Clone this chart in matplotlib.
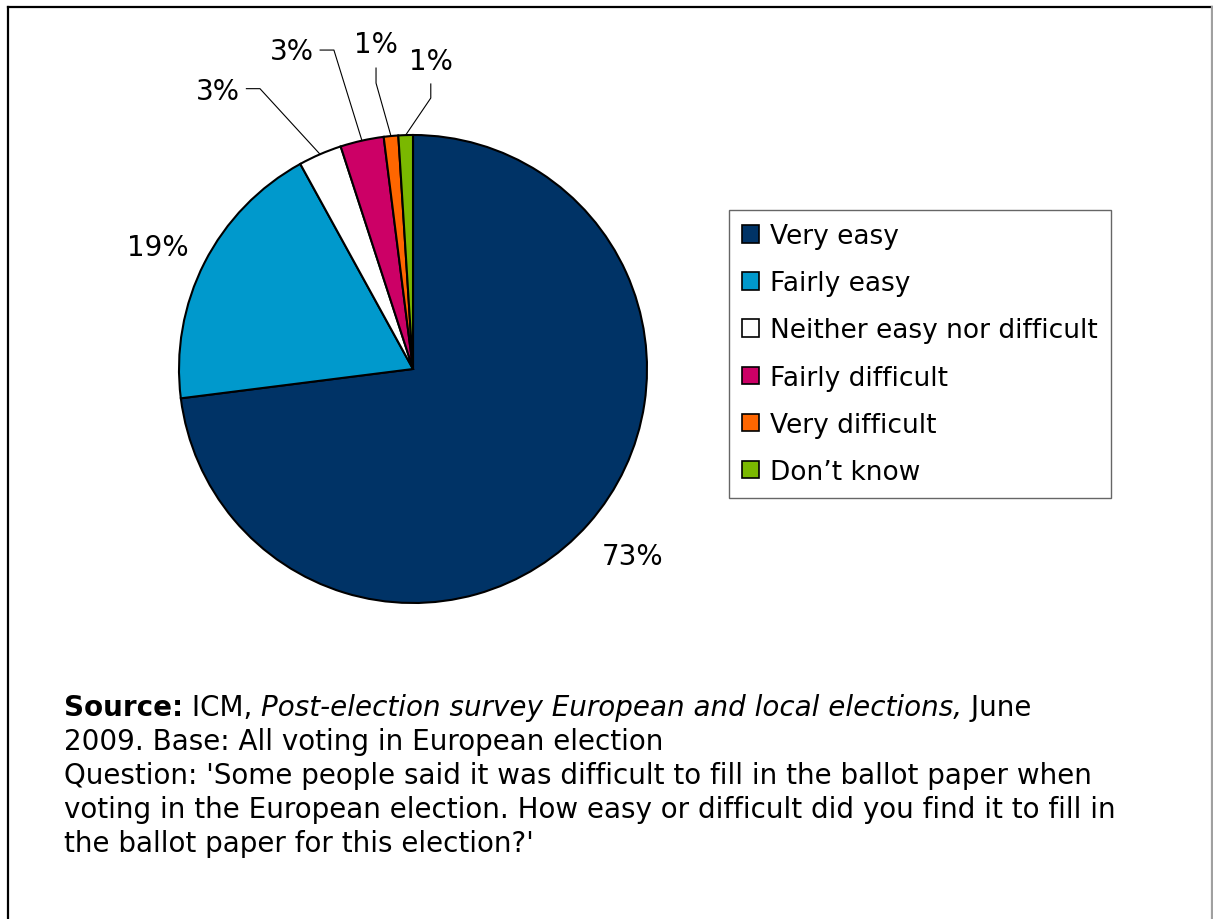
import matplotlib
matplotlib.use("Agg")
import matplotlib.pyplot as plt
import numpy as np
from matplotlib.lines import Line2D

plt.rcParams["font.family"] = ["DejaVu Sans"]

categories = [
    "Very easy",
    "Fairly easy",
    "Neither easy nor difficult",
    "Fairly difficult",
    "Very difficult",
    "Don\u2019t know",
]
shares = [73, 19, 3, 3, 1, 1]
colors = ["#003366", "#0099CC", "#FFFFFF", "#CC0066", "#FF6600", "#7AB800"]

footer = [
    [("Source:", "bold", "normal"), (" ICM, ", "normal", "normal"),
     ("Post-election survey European and local elections,", "normal", "italic"),
     (" June", "normal", "normal")],
    [("2009. Base: All voting in European election", "normal", "normal")],
    [("Question: 'Some people said it was difficult to fill in the ballot paper when",
      "normal", "normal")],
    [("voting in the European election. How easy or difficult did you find it to fill in",
      "normal", "normal")],
    [("the ballot paper for this election?'", "normal", "normal")],
]

W, H = 1213, 920
fig = plt.figure(figsize=(W / 100, H / 100), dpi=100)

# pie centre and radius in pixels
cx, cy, rad = 413, 370, 234
ax = fig.add_axes([(cx - rad) / W, 1 - (cy + rad) / H, 2 * rad / W, 2 * rad / H])
wedges, _ = ax.pie(
    shares,
    colors=colors,
    startangle=90,
    counterclock=False,
    radius=1,
    wedgeprops=dict(edgecolor="black", linewidth=1.5),
)
ax.set_xlim(-1, 1)
ax.set_ylim(-1, 1)
ax.axis("off")

# label placement: (text x, text y, leader points after the rim point)
label_layout = [
    ((0.94, -0.80), []),
    ((-1.09, 0.52), []),
    ((-0.833, 1.19), [(-0.654, 1.198), (-0.712, 1.198)]),
    ((-0.517, 1.36), [(-0.338, 1.363), (-0.397, 1.363)]),
    ((-0.158, 1.39), [(-0.158, 1.222), (-0.158, 1.286)]),
    ((0.075, 1.315), [(0.076, 1.158), (0.076, 1.218)]),
]

for w, val, (pos, leader) in zip(wedges, shares, label_layout):
    ang = np.deg2rad((w.theta1 + w.theta2) / 2)
    if leader:
        xs = [np.cos(ang)] + [p[0] for p in leader]
        ys = [np.sin(ang)] + [p[1] for p in leader]
        ax.plot(xs, ys, color="black", linewidth=0.8, clip_on=False)
    ax.text(pos[0], pos[1], f"{val}%", ha="center", va="center", fontsize=20)

fig.legend(
    wedges,
    categories,
    loc="upper left",
    bbox_to_anchor=(729 / W, 1 - 211 / H),
    bbox_transform=fig.transFigure,
    borderaxespad=0,
    fontsize=19,
    frameon=True,
    fancybox=False,
    edgecolor="#404040",
    handlelength=0.64,
    handleheight=0.64,
    handletextpad=0.4,
    labelspacing=0.8,
    borderpad=0.5,
)
leg = fig.legends[0]
leg.get_frame().set_linewidth(1.0)
for h in leg.legend_handles:
    h.set_linewidth(1.2)

# footer text, run by run so bold / italic pieces line up
renderer = fig.canvas.get_renderer()
base_y = 716
for i, runs in enumerate(footer):
    x = 64
    y = 1 - (base_y + i * 34) / H
    for txt, weight, style in runs:
        t = fig.text(x / W, y, txt, fontsize=20, fontweight=weight,
                     fontstyle=style, va="baseline", ha="left")
        bb = t.get_window_extent(renderer=renderer)
        x = bb.x1

# outer frame
fig.add_artist(Line2D([7.5 / W, 7.5 / W], [0, 1 - 7.5 / H], color="black", linewidth=1.6))
fig.add_artist(Line2D([7.5 / W, 1211.5 / W], [1 - 7.5 / H, 1 - 7.5 / H], color="black", linewidth=1.6))
fig.add_artist(Line2D([1211.5 / W, 1211.5 / W], [0, 1 - 7.5 / H], color="#A0A0A0", linewidth=1.6))

fig.savefig("out.png", dpi=100)
